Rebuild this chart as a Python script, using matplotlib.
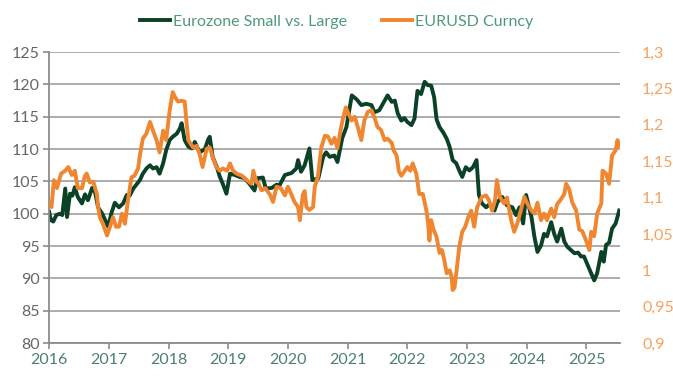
import matplotlib.pyplot as plt

# Eurozone Small vs. Large (left axis) - (decimal year, index)
green_x = [2016.00, 2016.03, 2016.07, 2016.12, 2016.18, 2016.22, 2016.27, 2016.30, 2016.35, 2016.39,
           2016.43, 2016.48, 2016.55, 2016.60, 2016.65, 2016.72, 2016.77, 2016.82, 2016.89, 2016.94,
           2016.99, 2017.04, 2017.10, 2017.17, 2017.24, 2017.30, 2017.35, 2017.41, 2017.47, 2017.52,
           2017.57, 2017.63, 2017.69, 2017.74, 2017.80, 2017.85, 2017.91, 2017.96, 2018.02, 2018.07,
           2018.14, 2018.19, 2018.22, 2018.27, 2018.33, 2018.39, 2018.44, 2018.52, 2018.61, 2018.66,
           2018.69, 2018.74, 2018.81, 2018.86, 2018.91, 2018.97, 2019.03, 2019.11, 2019.19, 2019.27,
           2019.36, 2019.44, 2019.49, 2019.58, 2019.63, 2019.73, 2019.81, 2019.86, 2019.95, 2020.06,
           2020.14, 2020.17, 2020.22, 2020.28, 2020.36, 2020.41, 2020.51, 2020.59, 2020.64, 2020.70,
           2020.78, 2020.83, 2020.91, 2020.98, 2021.07, 2021.15, 2021.23, 2021.31, 2021.40, 2021.45,
           2021.53, 2021.62, 2021.67, 2021.74, 2021.79, 2021.84, 2021.90, 2021.95, 2022.00, 2022.07,
           2022.12, 2022.17, 2022.23, 2022.29, 2022.34, 2022.40, 2022.45, 2022.49, 2022.54, 2022.60,
           2022.66, 2022.71, 2022.76, 2022.82, 2022.87, 2022.92, 2022.98, 2023.04, 2023.10, 2023.16,
           2023.20, 2023.25, 2023.32, 2023.38, 2023.46, 2023.51, 2023.59, 2023.67, 2023.76, 2023.82,
           2023.88, 2023.94, 2023.99, 2024.04, 2024.08, 2024.13, 2024.18, 2024.24, 2024.29, 2024.34,
           2024.41, 2024.46, 2024.51, 2024.58, 2024.63, 2024.68, 2024.74, 2024.80, 2024.86, 2024.91,
           2024.96, 2025.01, 2025.08, 2025.13, 2025.18, 2025.25, 2025.29, 2025.33, 2025.38, 2025.43,
           2025.49, 2025.55]
green_y = [100.3, 99.0, 98.8, 99.8, 100.0, 99.8, 103.9, 99.5, 103.1, 102.8,
           104.1, 102.6, 101.6, 103.0, 102.1, 104.0, 103.3, 101.0, 100.0, 99.0,
           98.0, 100.0, 101.7, 101.0, 101.6, 102.9, 102.8, 103.9, 104.6, 105.2,
           106.2, 107.0, 107.5, 107.0, 107.2, 106.2, 107.8, 109.8, 111.4, 111.9,
           112.4, 113.2, 114.0, 111.4, 110.4, 110.1, 111.1, 109.5, 110.0, 111.4,
           111.9, 108.8, 107.2, 105.7, 104.6, 103.1, 106.2, 106.0, 105.7, 105.5,
           104.6, 103.6, 105.5, 105.6, 103.9, 104.0, 104.5, 104.4, 106.0, 106.3,
           107.0, 108.3, 106.5, 107.5, 110.1, 105.2, 105.5, 108.8, 109.5, 108.8,
           109.0, 108.0, 111.7, 113.4, 118.3, 117.7, 116.8, 117.0, 116.8, 115.7,
           116.0, 117.5, 118.3, 117.3, 117.5, 115.5, 114.4, 114.8, 114.2, 113.7,
           114.7, 119.0, 118.5, 120.4, 119.9, 119.8, 118.0, 114.6, 113.4, 112.6,
           111.6, 110.3, 108.3, 107.8, 106.7, 105.7, 107.2, 106.7, 107.2, 108.3,
           102.9, 101.6, 101.0, 101.5, 100.5, 101.8, 102.6, 101.3, 101.0, 99.8,
           101.0, 98.5, 102.9, 101.0, 99.5, 96.4, 94.1, 95.1, 96.9, 96.5,
           98.7, 96.9, 95.7, 97.7, 95.7, 94.9, 94.4, 93.9, 94.0, 93.4,
           93.4, 92.3, 90.8, 89.7, 90.8, 94.1, 92.6, 95.2, 95.5, 97.7,
           98.5, 100.5]

# EURUSD Curncy (right axis)
orange_x = [2016.00, 2016.04, 2016.08, 2016.13, 2016.20, 2016.27, 2016.32, 2016.38, 2016.43, 2016.48,
            2016.55, 2016.60, 2016.63, 2016.68, 2016.74, 2016.77, 2016.80, 2016.82, 2016.85, 2016.90,
            2016.97, 2017.02, 2017.07, 2017.12, 2017.17, 2017.22, 2017.27, 2017.32, 2017.38, 2017.43,
            2017.49, 2017.52, 2017.57, 2017.63, 2017.69, 2017.74, 2017.80, 2017.85, 2017.91, 2017.96,
            2018.02, 2018.07, 2018.11, 2018.16, 2018.22, 2018.27, 2018.30, 2018.33, 2018.41, 2018.47,
            2018.52, 2018.57, 2018.64, 2018.69, 2018.74, 2018.80, 2018.86, 2018.91, 2018.98, 2019.03,
            2019.08, 2019.14, 2019.23, 2019.31, 2019.39, 2019.42, 2019.47, 2019.51, 2019.56, 2019.62,
            2019.70, 2019.75, 2019.81, 2019.88, 2019.95, 2020.00, 2020.06, 2020.11, 2020.17, 2020.20,
            2020.25, 2020.28, 2020.31, 2020.36, 2020.42, 2020.45, 2020.50, 2020.56, 2020.62, 2020.67,
            2020.73, 2020.78, 2020.83, 2020.88, 2020.92, 2020.97, 2021.01, 2021.07, 2021.12, 2021.17,
            2021.23, 2021.28, 2021.34, 2021.40, 2021.45, 2021.50, 2021.56, 2021.62, 2021.67, 2021.74,
            2021.77, 2021.82, 2021.86, 2021.90, 2021.95, 2022.00, 2022.05, 2022.09, 2022.15, 2022.20,
            2022.26, 2022.32, 2022.35, 2022.37, 2022.40, 2022.44, 2022.49, 2022.54, 2022.58, 2022.62,
            2022.66, 2022.71, 2022.74, 2022.76, 2022.79, 2022.82, 2022.87, 2022.92, 2022.97, 2023.02,
            2023.07, 2023.12, 2023.17, 2023.25, 2023.32, 2023.37, 2023.42, 2023.47, 2023.50, 2023.55,
            2023.62, 2023.67, 2023.74, 2023.79, 2023.84, 2023.90, 2023.96, 2024.01, 2024.08, 2024.13,
            2024.18, 2024.24, 2024.29, 2024.34, 2024.41, 2024.46, 2024.51, 2024.56, 2024.63, 2024.66,
            2024.71, 2024.76, 2024.83, 2024.88, 2024.93, 2024.99, 2025.05, 2025.08, 2025.13, 2025.18,
            2025.25, 2025.27, 2025.33, 2025.38, 2025.43, 2025.49, 2025.52, 2025.55]
orange_y = [1.092, 1.087, 1.124, 1.113, 1.133, 1.137, 1.142, 1.131, 1.137, 1.113,
            1.113, 1.130, 1.133, 1.121, 1.122, 1.113, 1.105, 1.087, 1.073, 1.064,
            1.048, 1.060, 1.073, 1.060, 1.060, 1.078, 1.064, 1.096, 1.128, 1.130,
            1.140, 1.158, 1.181, 1.188, 1.204, 1.192, 1.179, 1.162, 1.192, 1.179,
            1.220, 1.245, 1.238, 1.232, 1.233, 1.232, 1.206, 1.179, 1.169, 1.171,
            1.160, 1.142, 1.167, 1.169, 1.156, 1.142, 1.137, 1.140, 1.137, 1.147,
            1.137, 1.133, 1.130, 1.124, 1.119, 1.137, 1.122, 1.119, 1.110, 1.113,
            1.104, 1.094, 1.115, 1.113, 1.103, 1.115, 1.104, 1.094, 1.087, 1.069,
            1.104, 1.109, 1.087, 1.083, 1.087, 1.115, 1.128, 1.169, 1.185, 1.184,
            1.174, 1.182, 1.168, 1.192, 1.208, 1.224, 1.216, 1.206, 1.211, 1.197,
            1.179, 1.206, 1.218, 1.220, 1.210, 1.197, 1.193, 1.179, 1.181, 1.175,
            1.165, 1.158, 1.136, 1.130, 1.136, 1.142, 1.137, 1.147, 1.133, 1.105,
            1.105, 1.082, 1.064, 1.041, 1.069, 1.056, 1.046, 1.024, 1.028, 1.014,
            0.996, 1.000, 0.992, 0.973, 0.976, 0.996, 1.032, 1.053, 1.060, 1.073,
            1.082, 1.060, 1.087, 1.101, 1.103, 1.096, 1.082, 1.096, 1.124, 1.101,
            1.092, 1.100, 1.069, 1.053, 1.064, 1.082, 1.101, 1.092, 1.082, 1.078,
            1.093, 1.069, 1.078, 1.069, 1.085, 1.073, 1.091, 1.096, 1.105, 1.119,
            1.112, 1.094, 1.082, 1.056, 1.054, 1.042, 1.028, 1.053, 1.047, 1.078,
            1.092, 1.137, 1.133, 1.119, 1.158, 1.165, 1.179, 1.171]

years = [2016, 2017, 2018, 2019, 2020, 2021, 2022, 2023, 2024, 2025]
left_ticks = [80, 85, 90, 95, 100, 105, 110, 115, 120, 125]
right_ticks = [0.9, 0.95, 1.0, 1.05, 1.1, 1.15, 1.2, 1.25, 1.3]
right_labels = ['0,9', '0,95', '1', '1,05', '1,1', '1,15', '1,2', '1,25', '1,3']

green = '#0b4227'
orange = '#f0862f'
plt.rcParams['font.family'] = ['Lato', 'DejaVu Sans']

fig = plt.figure(figsize=(6.73, 3.8), dpi=100)
ax = fig.add_axes([0.073, 0.097, 0.848, 0.766])
ax2 = ax.twinx()

l1, = ax.plot(green_x, green_y, color=green, lw=2.8, label='Eurozone Small vs. Large')
l2, = ax2.plot(orange_x, orange_y, color=orange, lw=2.8, label='EURUSD Curncy')

ax.set_xlim(2016, 2025.56)
ax.set_ylim(80, 125)
ax2.set_ylim(0.9, 1.3)
ax.set_xticks(years)
ax.set_xticklabels([str(y) for y in years])
ax.set_yticks(left_ticks)
ax2.set_yticks(right_ticks)
ax2.set_yticklabels(right_labels)

ax.grid(axis='y', color='#a6a6a6', lw=1.3)
ax.set_axisbelow(True)
for a in (ax, ax2):
    a.spines['top'].set_visible(False)
    a.spines['right'].set_visible(False)
ax.spines['left'].set_color('#8c8c8c')
ax.spines['bottom'].set_color('#8c8c8c')
ax.spines['left'].set_linewidth(1.3)
ax.spines['bottom'].set_linewidth(1.3)
ax2.spines['left'].set_visible(False)
ax2.spines['bottom'].set_visible(False)

ax.tick_params(axis='y', colors='#8c8c8c', labelcolor='#666666', labelsize=11.5, length=4, width=1.2, pad=3)
ax.tick_params(axis='x', colors='#8c8c8c', labelcolor='#4e8069', labelsize=11.5, length=4, width=1.2, pad=3)
ax2.tick_params(axis='y', length=0, labelcolor='#f4a261', labelsize=11.5, pad=16)

fig.legend(handles=[l1, l2], loc='upper center', bbox_to_anchor=(0.5, 1.0), ncol=2, frameon=False,
           fontsize=11.5, labelcolor='#4f9a78', handlelength=1.9, handletextpad=0.15, columnspacing=2.2)

fig.savefig('out.png', dpi=100)
